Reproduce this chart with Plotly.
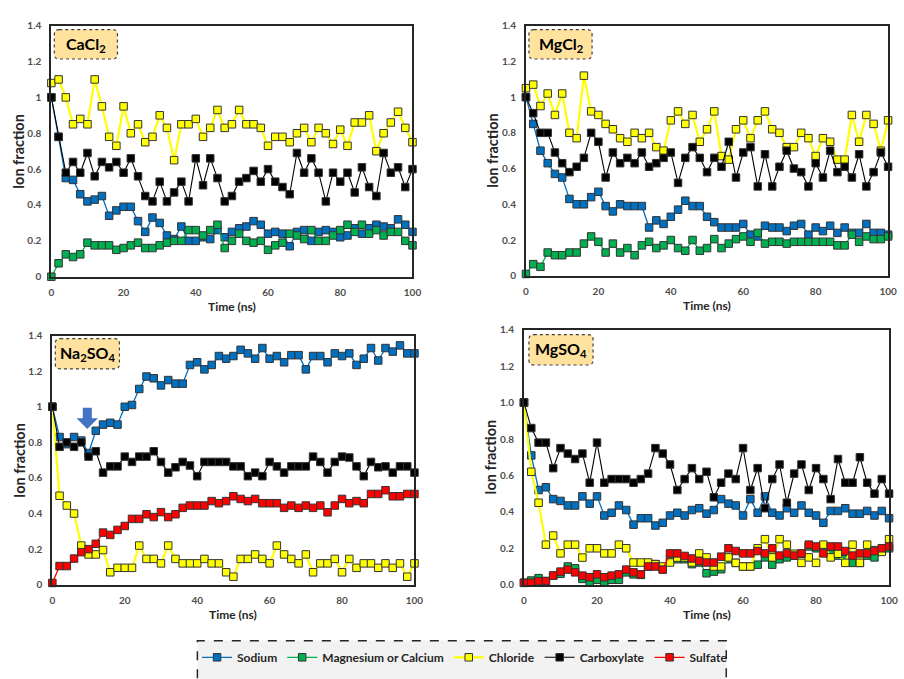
import plotly.graph_objects as go

# Sampling grid (ns)
TIME_NS = list(range(0, 101, 2))

# ---- CaCl2 ----
cacl2_sodium = [1.00, 0.78, 0.55, 0.54, 0.46, 0.42, 0.43, 0.45, 0.34, 0.37, 0.39, 0.39, 0.31, 0.25, 0.33, 0.30,
                0.23, 0.21, 0.28, 0.20, 0.20, 0.22, 0.21, 0.26, 0.22, 0.25, 0.27, 0.28, 0.31, 0.29, 0.24, 0.25,
                0.24, 0.17, 0.25, 0.26, 0.20, 0.25, 0.26, 0.25, 0.22, 0.23, 0.27, 0.24, 0.27, 0.29, 0.28, 0.27,
                0.32, 0.29, 0.25]
cacl2_cation = [0.00, 0.075, 0.125, 0.11, 0.125, 0.19, 0.175, 0.175, 0.175, 0.15, 0.16, 0.175, 0.19, 0.16, 0.16,
                0.175, 0.19, 0.20, 0.20, 0.26, 0.26, 0.23, 0.26, 0.29, 0.16, 0.20, 0.24, 0.20, 0.19, 0.20, 0.15,
                0.175, 0.19, 0.24, 0.23, 0.21, 0.26, 0.20, 0.20, 0.23, 0.26, 0.29, 0.25, 0.29, 0.24, 0.26, 0.23,
                0.25, 0.25, 0.20, 0.175]
cacl2_chloride = [1.08, 1.10, 1.00, 0.85, 0.88, 0.85, 1.10, 0.95, 0.78, 0.73, 0.95, 0.80, 0.85, 0.75, 0.78, 0.90,
                  0.83, 0.65, 0.85, 0.85, 0.88, 0.78, 0.83, 0.93, 0.83, 0.85, 0.93, 0.85, 0.85, 0.83, 0.73, 0.78,
                  0.78, 0.75, 0.80, 0.83, 0.75, 0.83, 0.80, 0.74, 0.82, 0.73, 0.86, 0.86, 0.90, 0.70, 0.80, 0.86,
                  0.92, 0.83, 0.75]
cacl2_carboxylate = [1.00, 0.78, 0.58, 0.64, 0.58, 0.69, 0.56, 0.64, 0.61, 0.64, 0.58, 0.66, 0.56, 0.45, 0.42,
                     0.53, 0.42, 0.47, 0.53, 0.42, 0.66, 0.51, 0.66, 0.55, 0.42, 0.45, 0.53, 0.55, 0.59, 0.53,
                     0.60, 0.53, 0.50, 0.46, 0.69, 0.58, 0.66, 0.58, 0.42, 0.58, 0.53, 0.58, 0.47, 0.61, 0.50,
                     0.45, 0.69, 0.58, 0.61, 0.50, 0.60]

# ---- MgCl2 ----
mgcl2_sodium = [1.00, 0.85, 0.70, 0.63, 0.57, 0.55, 0.43, 0.40, 0.40, 0.44, 0.47, 0.39, 0.36, 0.40, 0.39, 0.39,
                0.39, 0.27, 0.31, 0.29, 0.33, 0.37, 0.42, 0.39, 0.39, 0.33, 0.30, 0.27, 0.27, 0.27, 0.29, 0.23,
                0.22, 0.28, 0.27, 0.27, 0.25, 0.28, 0.29, 0.23, 0.27, 0.25, 0.28, 0.24, 0.27, 0.24, 0.24, 0.29,
                0.24, 0.24, 0.23]
mgcl2_cation = [0.01, 0.065, 0.05, 0.13, 0.115, 0.115, 0.13, 0.13, 0.18, 0.22, 0.19, 0.13, 0.18, 0.13, 0.155,
                0.115, 0.17, 0.19, 0.155, 0.17, 0.20, 0.155, 0.14, 0.20, 0.14, 0.155, 0.205, 0.155, 0.18, 0.205,
                0.22, 0.19, 0.24, 0.18, 0.19, 0.19, 0.18, 0.19, 0.19, 0.19, 0.19, 0.19, 0.19, 0.17, 0.17, 0.23,
                0.19, 0.22, 0.205, 0.205, 0.22]
mgcl2_chloride = [1.05, 1.07, 0.95, 1.02, 0.90, 1.02, 0.80, 0.77, 1.12, 0.92, 0.90, 0.85, 0.82, 0.77, 0.75, 0.80,
                  0.77, 0.80, 0.72, 0.70, 0.87, 0.92, 0.85, 0.90, 0.75, 0.82, 0.92, 0.67, 0.65, 0.82, 0.87, 0.77,
                  0.87, 0.92, 0.82, 0.80, 0.72, 0.72, 0.80, 0.77, 0.67, 0.77, 0.75, 0.65, 0.65, 0.90, 0.75, 0.90,
                  0.85, 0.70, 0.87]
mgcl2_carboxylate = [1.00, 0.91, 0.80, 0.80, 0.69, 0.63, 0.58, 0.61, 0.66, 0.80, 0.75, 0.55, 0.69, 0.63, 0.66,
                     0.63, 0.69, 0.61, 0.63, 0.66, 0.69, 0.52, 0.66, 0.72, 0.66, 0.58, 0.66, 0.61, 0.75, 0.55,
                     0.69, 0.72, 0.50, 0.68, 0.50, 0.61, 0.70, 0.60, 0.58, 0.50, 0.63, 0.55, 0.70, 0.58, 0.61,
                     0.55, 0.68, 0.50, 0.58, 0.69, 0.61]

# ---- Na2SO4 ----
na2so4_sodium = [1.00, 0.83, 0.79, 0.83, 0.81, 0.74, 0.865, 0.90, 0.91, 0.90, 1.00, 1.01, 1.10, 1.17, 1.16, 1.12,
                 1.15, 1.13, 1.13, 1.235, 1.25, 1.21, 1.235, 1.285, 1.27, 1.285, 1.32, 1.30, 1.27, 1.33, 1.27,
                 1.285, 1.25, 1.29, 1.29, 1.21, 1.285, 1.285, 1.25, 1.30, 1.285, 1.30, 1.235, 1.27, 1.33, 1.26,
                 1.33, 1.31, 1.345, 1.30, 1.30]
na2so4_chloride = [1.00, 0.50, 0.445, 0.40, 0.22, 0.17, 0.17, 0.195, 0.07, 0.095, 0.095, 0.095, 0.22, 0.145,
                   0.145, 0.12, 0.22, 0.145, 0.12, 0.12, 0.12, 0.145, 0.12, 0.12, 0.07, 0.045, 0.145, 0.145,
                   0.17, 0.145, 0.12, 0.22, 0.17, 0.145, 0.12, 0.17, 0.07, 0.12, 0.12, 0.145, 0.07, 0.145, 0.095,
                   0.12, 0.12, 0.095, 0.12, 0.095, 0.12, 0.045, 0.12]
na2so4_carboxylate = [1.00, 0.775, 0.80, 0.775, 0.80, 0.72, 0.75, 0.63, 0.665, 0.665, 0.72, 0.69, 0.72, 0.72,
                      0.75, 0.69, 0.63, 0.66, 0.69, 0.67, 0.61, 0.69, 0.69, 0.69, 0.69, 0.665, 0.665, 0.61, 0.63,
                      0.61, 0.69, 0.665, 0.63, 0.665, 0.665, 0.665, 0.72, 0.69, 0.63, 0.69, 0.72, 0.715, 0.665,
                      0.61, 0.69, 0.66, 0.665, 0.63, 0.665, 0.665, 0.63]
na2so4_sulfate = [0.01, 0.105, 0.105, 0.147, 0.183, 0.20, 0.23, 0.293, 0.28, 0.308, 0.33, 0.37, 0.37, 0.396,
                  0.38, 0.408, 0.38, 0.396, 0.432, 0.445, 0.445, 0.445, 0.47, 0.458, 0.47, 0.497, 0.482, 0.47,
                  0.482, 0.458, 0.458, 0.458, 0.432, 0.445, 0.432, 0.445, 0.432, 0.445, 0.407, 0.445, 0.482,
                  0.458, 0.47, 0.458, 0.51, 0.51, 0.531, 0.497, 0.497, 0.51, 0.51]

# ---- MgSO4 ----
mgso4_sodium = [1.00, 0.71, 0.52, 0.535, 0.47, 0.46, 0.435, 0.435, 0.485, 0.445, 0.485, 0.38, 0.395, 0.435, 0.41,
                0.33, 0.365, 0.365, 0.325, 0.34, 0.38, 0.395, 0.38, 0.41, 0.42, 0.39, 0.41, 0.47, 0.445, 0.435,
                0.38, 0.47, 0.395, 0.485, 0.395, 0.38, 0.42, 0.395, 0.435, 0.395, 0.38, 0.34, 0.405, 0.405, 0.42,
                0.39, 0.39, 0.405, 0.38, 0.405, 0.365]
mgso4_cation = [0.01, 0.023, 0.036, 0.02, 0.05, 0.06, 0.10, 0.09, 0.032, 0.011, 0.027, 0.011, 0.027, 0.027, 0.068,
                0.057, 0.054, 0.10, 0.113, 0.086, 0.14, 0.14, 0.14, 0.113, 0.122, 0.063, 0.072, 0.085, 0.14, 0.12,
                0.10, 0.10, 0.11, 0.15, 0.11, 0.14, 0.15, 0.16, 0.17, 0.21, 0.20, 0.18, 0.17, 0.16, 0.14, 0.12,
                0.12, 0.16, 0.15, 0.19, 0.20]
mgso4_chloride = [1.00, 0.62, 0.45, 0.22, 0.27, 0.172, 0.22, 0.22, 0.149, 0.20, 0.20, 0.172, 0.172, 0.22, 0.20,
                  0.122, 0.122, 0.122, 0.113, 0.10, 0.122, 0.149, 0.149, 0.122, 0.172, 0.15, 0.10, 0.10, 0.15,
                  0.12, 0.10, 0.10, 0.20, 0.25, 0.15, 0.25, 0.22, 0.17, 0.12, 0.15, 0.12, 0.22, 0.15, 0.17, 0.12,
                  0.22, 0.12, 0.22, 0.19, 0.18, 0.25]
mgso4_carboxylate = [1.00, 0.86, 0.78, 0.78, 0.64, 0.75, 0.72, 0.69, 0.72, 0.56, 0.78, 0.56, 0.58, 0.58, 0.58,
                     0.56, 0.58, 0.61, 0.75, 0.72, 0.66, 0.52, 0.58, 0.64, 0.58, 0.62, 0.48, 0.56, 0.61, 0.58,
                     0.75, 0.52, 0.64, 0.42, 0.58, 0.66, 0.45, 0.61, 0.66, 0.52, 0.64, 0.58, 0.47, 0.69, 0.56,
                     0.56, 0.70, 0.56, 0.50, 0.58, 0.50]
mgso4_sulfate = [0.011, 0.011, 0.02, 0.02, 0.05, 0.072, 0.083, 0.068, 0.05, 0.041, 0.057, 0.041, 0.05, 0.057,
                 0.083, 0.068, 0.057, 0.10, 0.10, 0.083, 0.172, 0.172, 0.158, 0.144, 0.13, 0.122, 0.122, 0.154,
                 0.20, 0.185, 0.172, 0.172, 0.185, 0.172, 0.20, 0.16, 0.172, 0.16, 0.172, 0.22, 0.21, 0.172,
                 0.21, 0.21, 0.185, 0.16, 0.172, 0.172, 0.185, 0.20, 0.21]

PANEL_TITLES = ["CaCl<sub>2</sub>", "MgCl<sub>2</sub>", "Na<sub>2</sub>SO<sub>4</sub>", "MgSO<sub>4</sub>"]
X_TICKS = [0, 20, 40, 60, 80, 100]
Y_TICKS = [0, 0.2, 0.4, 0.6, 0.8, 1.0, 1.2, 1.4]

SERIES_STYLE = {
    "Sodium": dict(color="#0070C0", lw=1.3),
    "Magnesium or Calcium": dict(color="#00B050", lw=1.3),
    "Chloride": dict(color="#FFFF00", lw=2.2),
    "Carboxylate": dict(color="#000000", lw=1.1),
    "Sulfate": dict(color="#FF0000", lw=1.3),
}

panels = [
    {"Sodium": cacl2_sodium, "Magnesium or Calcium": cacl2_cation, "Chloride": cacl2_chloride,
     "Carboxylate": cacl2_carboxylate},
    {"Sodium": mgcl2_sodium, "Magnesium or Calcium": mgcl2_cation, "Chloride": mgcl2_chloride,
     "Carboxylate": mgcl2_carboxylate},
    {"Sodium": na2so4_sodium, "Chloride": na2so4_chloride, "Carboxylate": na2so4_carboxylate,
     "Sulfate": na2so4_sulfate},
    {"Sodium": mgso4_sodium, "Magnesium or Calcium": mgso4_cation, "Chloride": mgso4_chloride,
     "Carboxylate": mgso4_carboxylate, "Sulfate": mgso4_sulfate},
]

W, H = 904, 679
# plot-area boxes in pixels: (left, right, top, bottom)
boxes = [(49, 415, 19, 275), (530, 897, 19, 274), (50, 417, 335, 589), (528, 898, 329, 589)]

FONT = "Lato"
fig = go.Figure()
shown = set()
order = ["Sodium", "Magnesium or Calcium", "Chloride", "Carboxylate", "Sulfate"]
for i, data in enumerate(panels):
    ax = "" if i == 0 else str(i + 1)
    for name in order:
        if name not in data:
            continue
        st = SERIES_STYLE[name]
        fig.add_trace(go.Scatter(
            x=TIME_NS, y=data[name], name=name, mode="lines+markers",
            xaxis="x" + ax, yaxis="y" + ax, cliponaxis=False,
            line=dict(color=st["color"], width=st["lw"]),
            marker=dict(symbol="square", size=7.5, color=st["color"],
                        line=dict(color="#333333", width=1)),
            legendrank=order.index(name),
            showlegend=name not in shown,
        ))
        shown.add(name)

layout = {}
shapes = []
annotations = []
for i, (l, r, t, b) in enumerate(boxes):
    ax = "" if i == 0 else str(i + 1)
    fmt = ".1f" if i == 3 else ""
    layout["xaxis" + ax] = dict(
        domain=[l / W, r / W], anchor="y" + ax, range=[0, 100], tickvals=X_TICKS,
        showline=True, mirror=True, linecolor="#262626", linewidth=2, showgrid=False, zeroline=False,
        ticks="outside", ticklen=5, tickcolor="rgba(0,0,0,0)",
        tickfont=dict(family=FONT, size=10, color="#4D4D4D", weight="bold"))
    layout["yaxis" + ax] = dict(
        domain=[1 - b / H, 1 - t / H], anchor="x" + ax, range=[0, 1.4], tickvals=Y_TICKS,
        tickformat=fmt,
        showline=True, mirror=True, linecolor="#262626", linewidth=2, showgrid=False, zeroline=False,
        ticks="outside", ticklen=6, tickcolor="rgba(0,0,0,0)",
        tickfont=dict(family=FONT, size=10, color="#4D4D4D", weight="bold"))
    # axis titles
    annotations.append(dict(text="Ion fraction", xref="paper", yref="paper",
                            x=(l - 34) / W, y=1 - (t + b) / 2 / H, textangle=-90, showarrow=False,
                            xanchor="center", yanchor="middle",
                            font=dict(family=FONT, size=14.5, color="#262626", weight="bold")))
    annotations.append(dict(text="Time (ns)", xref="paper", yref="paper",
                            x=(l + r) / 2 / W, y=1 - (b + 30) / H, showarrow=False,
                            xanchor="center", yanchor="middle",
                            font=dict(family=FONT, size=12, color="#262626", weight="bold")))

# salt name tags with rounded dashed frames
tags = [(52, 116, 23, 53), (533, 597, 23, 53), (53, 118, 338, 369), (533, 598, 334, 365)]
for (x0, x1, y0, y1), label in zip(tags, PANEL_TITLES):
    rad = 5
    X0, X1 = x0 / W, x1 / W
    Y0, Y1 = 1 - y1 / H, 1 - y0 / H
    rx, ry = rad / W, rad / H
    path = (f"M {X0+rx},{Y1} L {X1-rx},{Y1} Q {X1},{Y1} {X1},{Y1-ry} L {X1},{Y0+ry} "
            f"Q {X1},{Y0} {X1-rx},{Y0} L {X0+rx},{Y0} Q {X0},{Y0} {X0},{Y0+ry} "
            f"L {X0},{Y1-ry} Q {X0},{Y1} {X0+rx},{Y1} Z")
    shapes.append(dict(type="path", path=path, xref="paper", yref="paper",
                       fillcolor="#FFE29E", line=dict(color="#404040", width=1.2, dash="dot"),
                       layer="above"))
    annotations.append(dict(text=label, xref="paper", yref="paper", x=(x0 + x1) / 2 / W,
                            y=1 - (y0 + y1) / 2 / H, showarrow=False,
                            xanchor="center", yanchor="middle",
                            font=dict(family=FONT, size=16, color="#000000", weight="bold")))

# blue arrow marking the sodium turning point in the Na2SO4 panel
shapes.append(dict(type="path", xref="x3", yref="y3", fillcolor="#4472C4", line=dict(width=0),
                   path="M 8.4,0.995 L 10.9,0.995 L 10.9,0.935 L 12.6,0.935 L 9.65,0.875 "
                        "L 6.7,0.935 L 8.4,0.935 Z", layer="above"))

# dashed frame behind the legend
shapes.append(dict(type="rect", xref="paper", yref="paper", x0=197 / W, x1=733 / W,
                   y0=-0.05, y1=1 - 646 / H, fillcolor="#F2F2F2",
                   line=dict(color="#262626", width=1.5, dash="dash"), layer="below"))

fig.update_layout(
    width=W, height=H, margin=dict(l=0, r=0, t=0, b=0),
    paper_bgcolor="white", plot_bgcolor="white",
    shapes=shapes, annotations=annotations,
    legend=dict(orientation="h", x=0.518, xanchor="center", y=1 - 663 / H, yanchor="middle",
                bgcolor="rgba(0,0,0,0)", itemwidth=30, tracegroupgap=0,
                font=dict(family=FONT, size=12, color="#262626", weight="bold")),
    **layout,
)

fig.write_html("out.html")
